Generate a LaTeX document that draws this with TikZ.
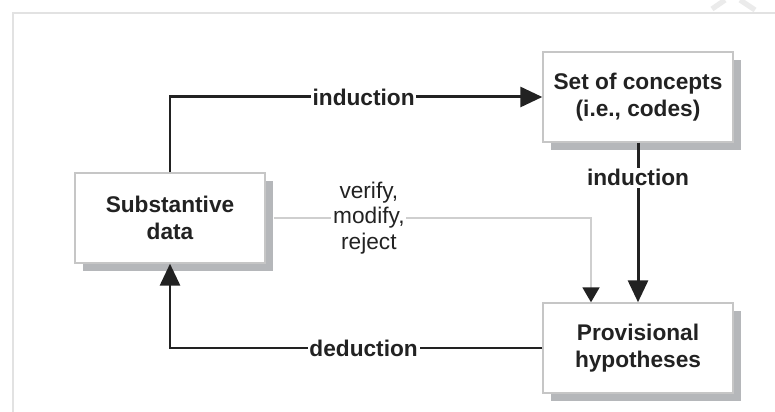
\documentclass[tikz,border=0pt]{standalone}
\usepackage{fontspec}
\setmainfont{Liberation Sans}
\usetikzlibrary{arrows.meta,shadows}

\definecolor{framegray}{HTML}{E2E2E2}
\definecolor{boxgray}{HTML}{C6C6C6}
\definecolor{shadegray}{HTML}{B5B7BA}
\definecolor{linegray}{HTML}{CFCFCF}
\definecolor{textgray}{HTML}{222222}

\tikzset{
    stagebox/.style={draw=boxgray, line width=0.8pt, fill=white, minimum width=3.8cm, minimum height=1.8cm,
        inner sep=0pt, align=center, text=textgray, font=\fontsize{12.9pt}{15.5pt}\selectfont\bfseries,
        drop shadow={shadow xshift=0.16cm, shadow yshift=-0.16cm, fill=shadegray, opacity=1}},
    flow/.style={line width=1.7pt, textgray, -{Triangle[length=0.44cm,width=0.4cm]}},
    flowlabel/.style={fill=white, inner sep=1pt, text=textgray, font=\fontsize{12.9pt}{15.5pt}\selectfont\bfseries},
    check/.style={line width=1.1pt, linegray, -{Triangle[length=0.3cm,width=0.34cm,color=textgray]}}
}

\begin{document}
\begin{tikzpicture}
        \useasboundingbox (0, 0) rectangle (15.5, -8.24);
        \draw[framegray, line width=1.2pt] (0.26, -8.24) -- (0.26, -0.26) -- (15.5, -0.26);
        \draw[framegray!70, line width=3pt] (14.24, -0.18) -- (14.5, 0) (14.8, 0) -- (15.1, -0.2);
        \node[stagebox](data)at(3.4, -4.36){Substantive\\data};
        \node[stagebox](concepts)at(12.76, -1.94){Set of concepts\\(i.e., codes)};
        \node[stagebox](hypo)at(12.76, -6.96){Provisional\\hypotheses};
        \draw[flow] (data.north) |- node[flowlabel, pos=0.76]{induction} (concepts.west);
        \draw[flow] (concepts.south) -- node[flowlabel, pos=0.22]{induction} (hypo.north);
        \draw[flow] (hypo.west) -| node[flowlabel, pos=0.24]{deduction} (data.south);
        \draw[check] ([xshift=0.16cm]data.east) -| node[pos=0.15, fill=white, inner sep=1pt, align=center, text=textgray,
            font=\fontsize{12.9pt}{14.6pt}\selectfont]{verify,\\modify,\\reject} ([xshift=-0.94cm]hypo.north);
    \end{tikzpicture}
\end{document}
